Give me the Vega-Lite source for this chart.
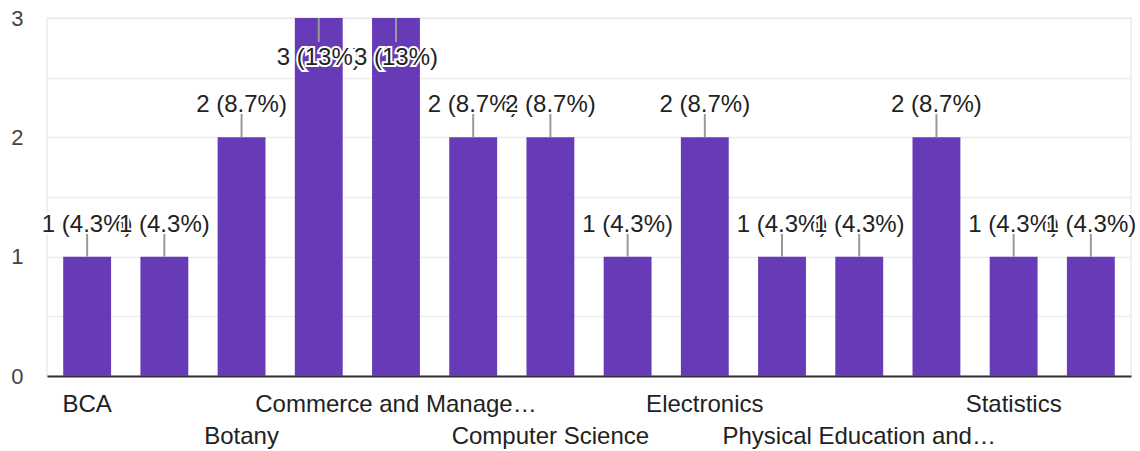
{
  "$schema": "https://vega.github.io/schema/vega-lite/v6.json",
  "width": 1084,
  "height": 358,
  "autosize": "none",
  "padding": {"left": 47, "top": 18, "right": 9, "bottom": 75},
  "background": "white",
  "config": {
    "view": {"stroke": "#ececec", "strokeWidth": 1.5},
    "font": "Liberation Sans"
  },
  "data": {
    "values": [
      {"subject": "BCA", "count": 1, "label": "1 (4.3%)"},
      {"subject": "Biotechnology", "count": 1, "label": "1 (4.3%)"},
      {"subject": "Botany", "count": 2, "label": "2 (8.7%)"},
      {"subject": "Chemistry", "count": 3, "label": "3 (13%)"},
      {"subject": "Commerce and Management", "count": 3, "label": "3 (13%)"},
      {"subject": "Computer Applications", "count": 2, "label": "2 (8.7%)"},
      {"subject": "Computer Science", "count": 2, "label": "2 (8.7%)"},
      {"subject": "Economics", "count": 1, "label": "1 (4.3%)"},
      {"subject": "Electronics", "count": 2, "label": "2 (8.7%)"},
      {"subject": "English", "count": 1, "label": "1 (4.3%)"},
      {"subject": "Physical Education and Sports", "count": 1, "label": "1 (4.3%)"},
      {"subject": "Physics", "count": 2, "label": "2 (8.7%)"},
      {"subject": "Statistics", "count": 1, "label": "1 (4.3%)"},
      {"subject": "Zoology", "count": 1, "label": "1 (4.3%)"}
    ]
  },
  "encoding": {
    "x": {
      "field": "subject",
      "type": "nominal",
      "sort": null,
      "scale": {"paddingInner": 0.38, "paddingOuter": 0.21},
      "axis": {
        "title": null,
        "labelAngle": 0,
        "ticks": false,
        "grid": false,
        "domainColor": "#333333",
        "domainWidth": 2,
        "labelFont": "Liberation Sans",
        "labelFontSize": 24,
        "labelColor": "#222222",
        "labelBaseline": "alphabetic",
        "labelPadding": 35,
        "labelLineHeight": 32,
        "labelLimit": {"expr": "datum && datum.value == 'Physical Education and Sports' ? 275 : 290"},
        "labelOverlap": false,
        "labelExpr": "indexof(['BCA','Commerce and Management','Electronics','Statistics'], datum.value) >= 0 ? datum.label : (indexof(['Botany','Computer Science','Physical Education and Sports'], datum.value) >= 0 ? ['', datum.label] : '')"
      }
    },
    "y": {
      "field": "count",
      "type": "quantitative",
      "scale": {"domain": [0, 3], "nice": false},
      "axis": {
        "title": null,
        "values": [0, 0.5, 1, 1.5, 2, 2.5, 3],
        "labelExpr": "datum.value % 1 == 0 ? format(datum.value, 'd') : ''",
        "domain": false,
        "ticks": false,
        "grid": true,
        "gridColor": "#ececec",
        "gridWidth": 1.5,
        "labelFont": "Liberation Sans",
        "labelFontSize": 22,
        "labelColor": "#444444",
        "labelPadding": 24
      }
    }
  },
  "layer": [
    {"mark": {"type": "bar", "color": "#673ab7"}},
    {
      "transform": [{"filter": "datum.count < 3"}],
      "mark": {"type": "rule", "color": "#999999", "strokeWidth": 2, "y2Offset": -24},
      "encoding": {"y2": {"field": "count"}}
    },
    {
      "transform": [{"filter": "datum.count >= 3"}],
      "mark": {"type": "rule", "color": "#999999", "strokeWidth": 2, "y2Offset": 24},
      "encoding": {"y2": {"field": "count"}}
    },
    {
      "transform": [{"filter": "datum.count < 3 && indexof(['Biotechnology','Commerce and Management','Computer Science','Physical Education and Sports','Zoology'], datum.subject) < 0"}],
      "mark": {"type": "text", "baseline": "bottom", "dy": -20, "fontSize": 24, "font": "Liberation Sans", "color": "white", "stroke": "white", "strokeWidth": 4},
      "encoding": {"text": {"field": "label"}}
    },
    {
      "transform": [{"filter": "datum.count >= 3 && indexof(['Biotechnology','Commerce and Management','Computer Science','Physical Education and Sports','Zoology'], datum.subject) < 0"}],
      "mark": {"type": "text", "baseline": "top", "dy": 28, "fontSize": 24, "font": "Liberation Sans", "color": "white", "stroke": "white", "strokeWidth": 4},
      "encoding": {"text": {"field": "label"}}
    },
    {
      "transform": [{"filter": "datum.count < 3 && indexof(['Biotechnology','Commerce and Management','Computer Science','Physical Education and Sports','Zoology'], datum.subject) < 0"}],
      "mark": {"type": "text", "baseline": "bottom", "dy": -20, "fontSize": 24, "font": "Liberation Sans", "color": "#222222"},
      "encoding": {"text": {"field": "label"}}
    },
    {
      "transform": [{"filter": "datum.count >= 3 && indexof(['Biotechnology','Commerce and Management','Computer Science','Physical Education and Sports','Zoology'], datum.subject) < 0"}],
      "mark": {"type": "text", "baseline": "top", "dy": 28, "fontSize": 24, "font": "Liberation Sans", "color": "#222222"},
      "encoding": {"text": {"field": "label"}}
    },
    {
      "transform": [{"filter": "datum.count < 3 && indexof(['Biotechnology','Commerce and Management','Computer Science','Physical Education and Sports','Zoology'], datum.subject) >= 0"}],
      "mark": {"type": "text", "baseline": "bottom", "dy": -20, "fontSize": 24, "font": "Liberation Sans", "color": "white", "stroke": "white", "strokeWidth": 4},
      "encoding": {"text": {"field": "label"}}
    },
    {
      "transform": [{"filter": "datum.count >= 3 && indexof(['Biotechnology','Commerce and Management','Computer Science','Physical Education and Sports','Zoology'], datum.subject) >= 0"}],
      "mark": {"type": "text", "baseline": "top", "dy": 28, "fontSize": 24, "font": "Liberation Sans", "color": "white", "stroke": "white", "strokeWidth": 4},
      "encoding": {"text": {"field": "label"}}
    },
    {
      "transform": [{"filter": "datum.count < 3 && indexof(['Biotechnology','Commerce and Management','Computer Science','Physical Education and Sports','Zoology'], datum.subject) >= 0"}],
      "mark": {"type": "text", "baseline": "bottom", "dy": -20, "fontSize": 24, "font": "Liberation Sans", "color": "#222222"},
      "encoding": {"text": {"field": "label"}}
    },
    {
      "transform": [{"filter": "datum.count >= 3 && indexof(['Biotechnology','Commerce and Management','Computer Science','Physical Education and Sports','Zoology'], datum.subject) >= 0"}],
      "mark": {"type": "text", "baseline": "top", "dy": 28, "fontSize": 24, "font": "Liberation Sans", "color": "#222222"},
      "encoding": {"text": {"field": "label"}}
    }
  ]
}
